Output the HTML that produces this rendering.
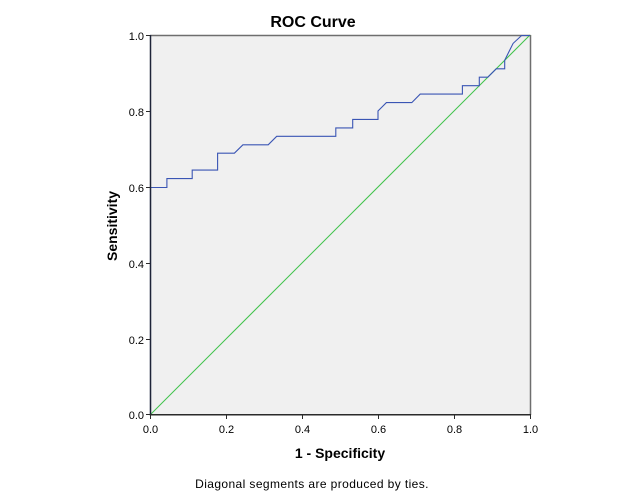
<!DOCTYPE html>
<html>
<head>
<meta charset="utf-8">
<style>
  html, body { margin:0; padding:0; background:#fff; }
  svg { display:block; }
  text { font-family: "Liberation Sans", Arial, sans-serif; fill:#000; }
</style>
</head>
<body>
<svg width="626" height="501" viewBox="0 0 626 501" xmlns="http://www.w3.org/2000/svg">
  <rect x="0" y="0" width="626" height="501" fill="#ffffff"/>
  <!-- plot background -->
  <rect x="150" y="35" width="380" height="380" fill="#f0f0f0"/>
  <!-- top and right border -->
  <line x1="150" y1="35.5" x2="530.5" y2="35.5" stroke="#6e6e6e" stroke-width="1.5"/>
  <line x1="530.5" y1="35" x2="530.5" y2="415" stroke="#6e6e6e" stroke-width="1.5"/>

  <!-- reference diagonal -->
  <line x1="150" y1="415" x2="530" y2="35" stroke="#3fc24a" stroke-width="1"/>

  <!-- ROC curve -->
  <polyline fill="none" stroke="#3a55b4" stroke-width="1.1" points="
    150.5,415 150.5,187.5 166.9,187.5 166.9,178.6 192.2,178.6 192.2,170.1
    217.6,170.1 217.6,153.2 234.4,153.2 242.9,144.8 268.2,144.8 276.7,136.3
    335.8,136.3 335.8,127.9 352.7,127.9 352.7,119.4 378,119.4 378,111
    386.4,102.6 411.8,102.6 420.2,94.1 462.4,94.1 462.4,85.7 479.3,85.7
    479.3,77.2 487.8,77.2 496.2,68.8 504.7,68.8 504.7,60.3 513.1,43.4
    521.6,35.5 530,35.5"/>

  <!-- left and bottom axes -->
  <line x1="150.5" y1="35" x2="150.5" y2="415.5" stroke="#1e2438" stroke-width="1.5"/>
  <line x1="150" y1="414.75" x2="531" y2="414.75" stroke="#2a2a2a" stroke-width="1.5"/>

  <!-- y ticks -->
  <g stroke="#2a2a2a" stroke-width="1">
    <line x1="146" y1="35.5" x2="150" y2="35.5"/>
    <line x1="146" y1="111.5" x2="150" y2="111.5"/>
    <line x1="146" y1="187.5" x2="150" y2="187.5"/>
    <line x1="146" y1="263.5" x2="150" y2="263.5"/>
    <line x1="146" y1="339.5" x2="150" y2="339.5"/>
    <line x1="146" y1="414.5" x2="150" y2="414.5"/>
  </g>
  <!-- x ticks -->
  <g stroke="#2a2a2a" stroke-width="1">
    <line x1="150.5" y1="415" x2="150.5" y2="419"/>
    <line x1="226.5" y1="415" x2="226.5" y2="419"/>
    <line x1="302.5" y1="415" x2="302.5" y2="419"/>
    <line x1="378.5" y1="415" x2="378.5" y2="419"/>
    <line x1="454.5" y1="415" x2="454.5" y2="419"/>
    <line x1="530.5" y1="415" x2="530.5" y2="419"/>
  </g>

  <!-- y tick labels -->
  <g font-size="11" text-anchor="end">
    <text x="144" y="40">1.0</text>
    <text x="144" y="116">0.8</text>
    <text x="144" y="192">0.6</text>
    <text x="144" y="268">0.4</text>
    <text x="144" y="344">0.2</text>
    <text x="144" y="419">0.0</text>
  </g>
  <!-- x tick labels -->
  <g font-size="11" text-anchor="middle">
    <text x="150.5" y="433">0.0</text>
    <text x="226.5" y="433">0.2</text>
    <text x="302.5" y="433">0.4</text>
    <text x="378.5" y="433">0.6</text>
    <text x="454.5" y="433">0.8</text>
    <text x="530.5" y="433">1.0</text>
  </g>

  <!-- titles -->
  <text x="313" y="27" font-size="16" font-weight="bold" text-anchor="middle">ROC Curve</text>
  <text x="340" y="458" font-size="14" font-weight="bold" text-anchor="middle">1 - Specificity</text>
  <text x="117" y="226" font-size="14" font-weight="bold" text-anchor="middle" transform="rotate(-90 117 226)">Sensitivity</text>
  <text x="312" y="488" font-size="12" letter-spacing="0.4" text-anchor="middle">Diagonal segments are produced by ties.</text>
</svg>
</body>
</html>
